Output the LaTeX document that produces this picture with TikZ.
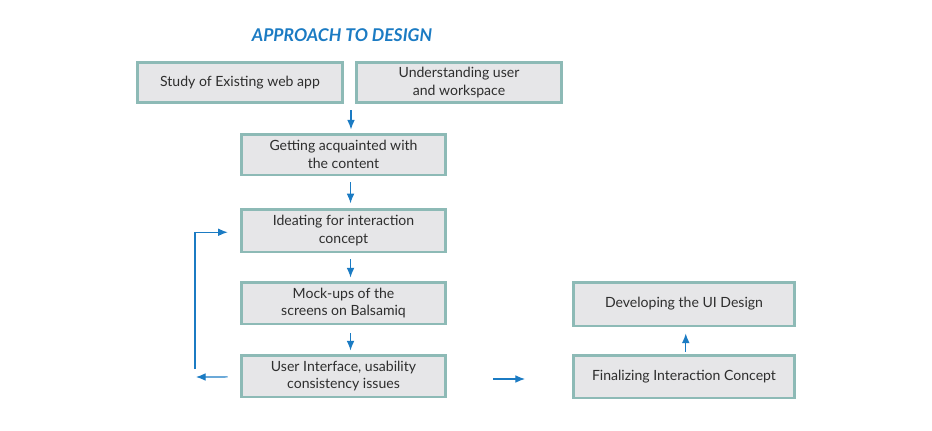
\documentclass[tikz,border=0pt]{standalone}
\usepackage{fontspec}
\setmainfont{Lato}
\usetikzlibrary{arrows.meta,calc}
\definecolor{boxline}{HTML}{8DBAB6}
\definecolor{boxfill}{HTML}{E6E6E8}
\definecolor{flowblue}{HTML}{1B7BC3}
\definecolor{boxtext}{HTML}{2E2E2E}
\tikzset{
  stepbox/.style={draw=boxline,fill=boxfill,line width=1.7pt,text=boxtext,
    align=center,inner sep=0pt,font=\fontsize{8}{10.2}\selectfont},
  flow/.style={draw=flowblue,line width=0.65pt,-{Latex[length=5.5pt,width=4.4pt]}}
}
\begin{document}
\begin{tikzpicture}[x=0.02cm,y=-0.02cm]
  \useasboundingbox (0,0) rectangle (932,430);
  \node[text=flowblue,font=\fontsize{10}{12}\selectfont\bfseries\itshape] (title) at (342,35) {APPROACH TO DESIGN};
  % boxes
  \node[stepbox,minimum width=4.1cm,minimum height=0.8cm] (study) at (240,82.5) {Study of Existing web app};
  \node[stepbox,minimum width=4.1cm,minimum height=0.8cm] (user) at (459,82.5) {Understanding user\\and workspace};
  \node[stepbox,minimum width=4.08cm,minimum height=0.82cm] (content) at (343.5,154.5) {Getting acquainted with\\the content};
  \node[stepbox,minimum width=4.08cm,minimum height=0.86cm] (ideate) at (343.5,230.5) {Ideating for interaction\\concept};
  \node[stepbox,minimum width=4.08cm,minimum height=0.84cm] (mockup) at (343.5,303) {Mock-ups of the\\screens on Balsamiq};
  \node[stepbox,minimum width=4.08cm,minimum height=0.84cm] (issues) at (343.5,376) {User Interface, usability\\consistency issues};
  \node[stepbox,minimum width=4.44cm,minimum height=0.88cm] (develop) at (684,304) {Developing the UI Design};
  \node[stepbox,minimum width=4.44cm,minimum height=0.86cm] (final) at (684,376.5) {Finalizing Interaction Concept};
  % free ends of the loose arrows
  \coordinate (gap) at (351,110);
  \coordinate (loopbot) at (195,369);
  \coordinate (backend) at (196,377);
  \coordinate (rightstart) at (493,379);
  \coordinate (rightend) at (525,379);
  % arrows
  \draw[flow,shorten >=1.7pt] (gap) -- (gap |- content.north);
  \draw[flow,shorten <=3.4pt,shorten >=2.4pt] ([xshift=4pt]content.south) -- ([xshift=4pt]ideate.north);
  \draw[flow,shorten <=3.4pt,shorten >=1.7pt] ([xshift=4pt]ideate.south) -- ([xshift=4pt]mockup.north);
  \draw[flow,shorten <=4.5pt,shorten >=1.7pt] ([xshift=4pt]mockup.south) -- ([xshift=4pt]issues.north);
  \draw[flow,shorten >=7pt] (loopbot) |- ([yshift=-1pt]ideate.west);
  \draw[flow,shorten <=7pt] ([yshift=-0.5pt]issues.west) -- (backend);
  \draw[flow] (rightstart) -- (rightend);
  \draw[flow,shorten <=1pt,shorten >=3.4pt] ([xshift=1pt]final.north) -- ([xshift=1pt]develop.south);
\end{tikzpicture}
\end{document}
